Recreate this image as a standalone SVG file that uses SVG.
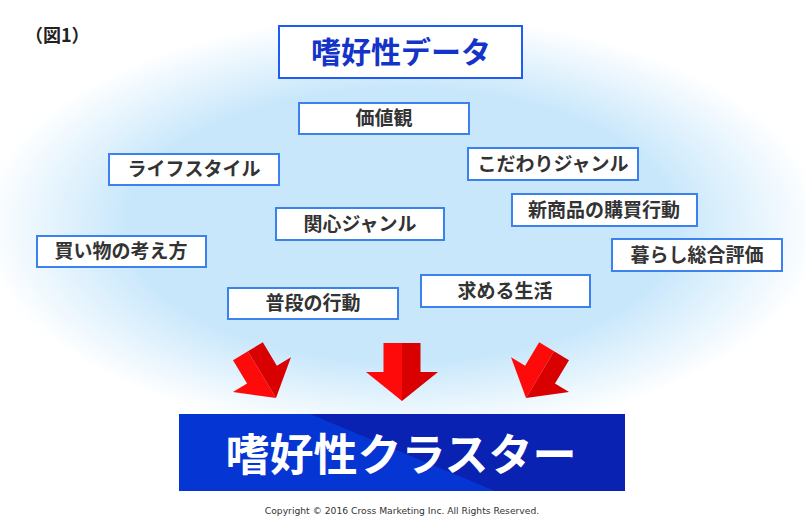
<svg xmlns="http://www.w3.org/2000/svg" width="805" height="520" viewBox="0 0 805 520">
<defs>
<radialGradient id="bg" gradientUnits="userSpaceOnUse" cx="402" cy="225" r="420" gradientTransform="translate(0,225) scale(1,0.5) translate(0,-225)">
<stop offset="0" stop-color="#c8e7fb"/>
<stop offset="0.65" stop-color="#c8e7fb"/>
<stop offset="1" stop-color="#ffffff"/>
</radialGradient>
<path id="arr" d="M-18.5,-58 L0,-58 L0,0 L-36,-29 L-18.5,-29 Z" fill="#ff0a0a"/>
<path id="arr2" d="M0,-58 L18.5,-58 L18.5,-29 L36,-29 L0,0 Z" fill="#d80000"/>
<g id="arrow"><use href="#arr"/><use href="#arr2"/></g>
</defs>
<style>
.lbl rect{fill:#ffffff;stroke:#3b82ef;stroke-width:2}
.lbl text{font-family:"Noto Sans CJK JP","Noto Sans",sans-serif;font-weight:bold;font-size:19px;fill:#333333;text-anchor:middle}
</style>
<rect width="805" height="520" fill="#ffffff"/>
<rect width="805" height="520" fill="url(#bg)"/>
<text x="25" y="42" font-family="Noto Sans CJK JP, sans-serif" font-weight="bold" font-size="18" fill="#222">（図1）</text>

<g id="title">
<rect x="279" y="26" width="243" height="52" fill="#ffffff" stroke="#1f5cf5" stroke-width="2"/>
<text x="401" y="63" font-family="Noto Sans CJK JP, sans-serif" font-weight="bold" font-size="30" fill="#1433c8" text-anchor="middle">嗜好性データ</text>
</g>

<g id="n-kachikan" class="lbl"><rect x="299" y="103" width="170" height="31"/><text x="384" y="125">価値観</text></g>
<g id="n-lifestyle" class="lbl"><rect x="109" y="154" width="170" height="31"/><text x="194" y="176">ライフスタイル</text></g>
<g id="n-kodawari" class="lbl"><rect x="468" y="148" width="170" height="32"/><text x="553" y="171">こだわりジャンル</text></g>
<g id="n-shinshohin" class="lbl"><rect x="512" y="194" width="185" height="32"/><text x="604" y="217">新商品の購買行動</text></g>
<g id="n-kanshin" class="lbl"><rect x="276" y="208" width="168" height="32"/><text x="360" y="231">関心ジャンル</text></g>
<g id="n-kaimono" class="lbl"><rect x="37" y="236" width="169" height="31"/><text x="121" y="258">買い物の考え方</text></g>
<g id="n-kurashi" class="lbl"><rect x="612" y="239" width="170" height="32"/><text x="697" y="262">暮らし総合評価</text></g>
<g id="n-motomeru" class="lbl"><rect x="421" y="275" width="169" height="32"/><text x="505" y="298">求める生活</text></g>
<g id="n-fudan" class="lbl"><rect x="228" y="288" width="170" height="31"/><text x="313" y="310">普段の行動</text></g>

<g id="arrows">
<use href="#arrow" transform="translate(276,398) rotate(-31) scale(0.94)"/>
<use href="#arrow" transform="translate(402,401)"/>
<use href="#arrow" transform="translate(526,398) rotate(31) scale(0.94)"/>
</g>

<g id="cluster">
<rect x="179" y="414" width="446" height="77" fill="#0535d2"/>
<polygon points="310,414 625,414 625,491 495,491" fill="#0a22b2"/>
<text x="401" y="471" font-family="Noto Sans CJK JP, sans-serif" font-weight="bold" font-size="44" fill="#ffffff" text-anchor="middle">嗜好性クラスター</text>
</g>

<text x="402" y="514" font-family="DejaVu Sans, sans-serif" font-size="9.2" fill="#333" text-anchor="middle">Copyright © 2016 Cross Marketing Inc. All Rights Reserved.</text>
</svg>
